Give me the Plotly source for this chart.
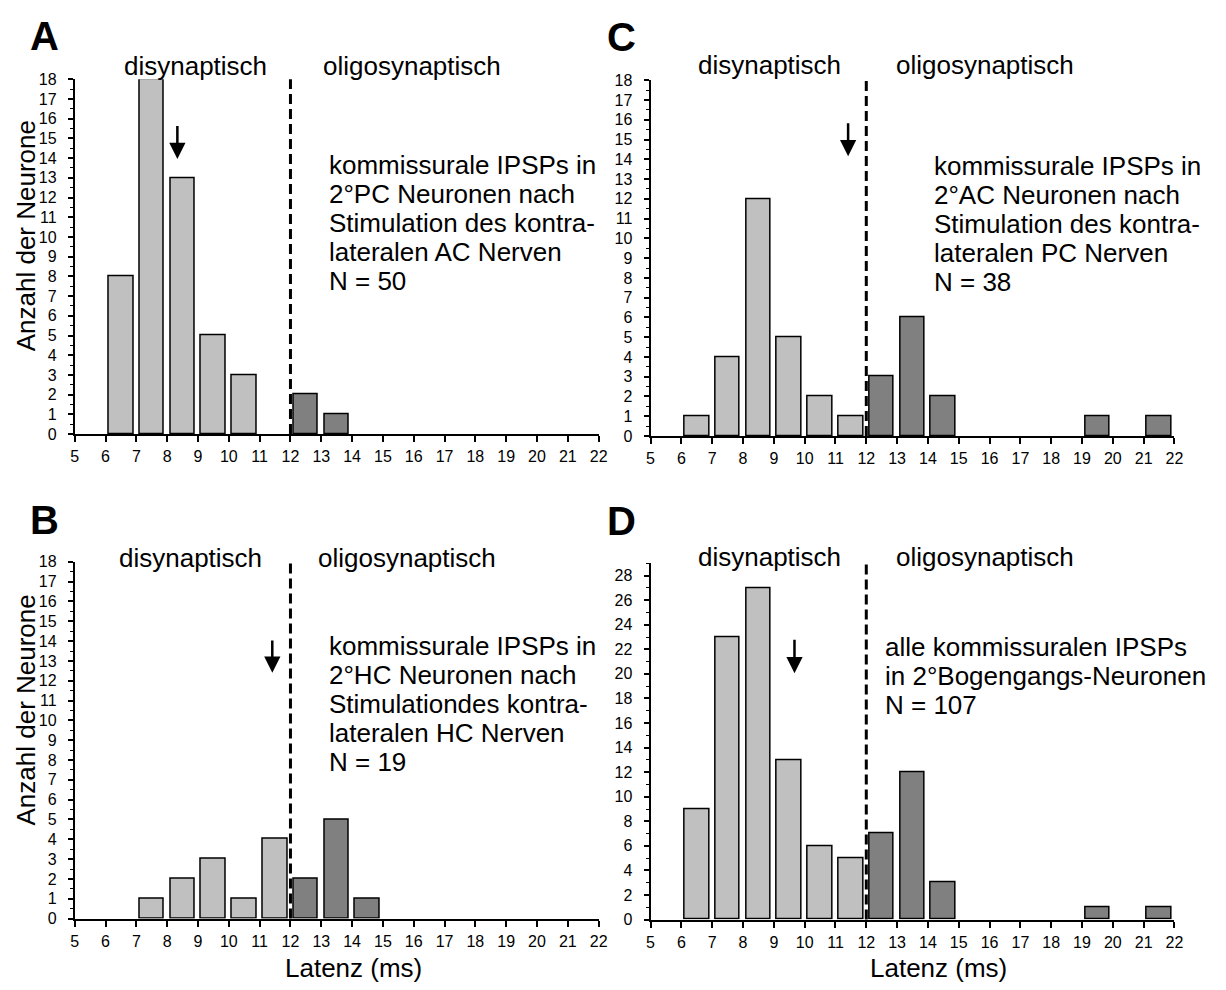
import plotly.graph_objects as go

# Latency bins (left edges, ms) and neuron counts per panel
bin_left = [5, 6, 7, 8, 9, 10, 11, 12, 13, 14, 15, 16, 17, 18, 19, 20, 21]
counts_A = [0, 8, 18, 13, 5, 3, 0, 2, 1, 0, 0, 0, 0, 0, 0, 0, 0]
counts_B = [0, 0, 1, 2, 3, 1, 4, 2, 5, 1, 0, 0, 0, 0, 0, 0, 0]
counts_C = [0, 1, 4, 12, 5, 2, 1, 3, 6, 2, 0, 0, 0, 0, 1, 0, 1]
counts_D = [0, 9, 23, 27, 13, 6, 5, 7, 12, 3, 0, 0, 0, 0, 1, 0, 1]

# boundary between disynaptic and oligosynaptic latencies (ms)
boundary = 12

# arrow marks: latency, arrow tail count, arrow tip count
arrow_A = (8.33, 15.7, 13.95)
arrow_B = (11.41, 14.1, 12.4)
arrow_C = (11.41, 15.9, 14.15)
arrow_D = (9.67, 22.9, 20.05)

text_A = ["kommissurale IPSPs in", "2°PC Neuronen nach", "Stimulation des kontra-",
          "lateralen AC Nerven", "N = 50"]
text_B = ["kommissurale IPSPs in", "2°HC Neuronen nach", "Stimulationdes kontra-",
          "lateralen HC Nerven", "N = 19"]
text_C = ["kommissurale IPSPs in", "2°AC Neuronen nach", "Stimulation des kontra-",
          "lateralen PC Nerven", "N = 38"]
text_D = ["alle kommissuralen IPSPs", "in 2°Bogengangs-Neuronen", "N = 107"]

x_ticks = list(range(5, 23))

W, H = 1226, 990
FONT = "Liberation Sans, Arial, sans-serif"
LIGHT = "#c0c0c0"
DARK = "#808080"


def px_x(v):
    return v / W


def px_y(v):
    return 1 - v / H


panels = [
    dict(letter="A", counts=counts_A, arrow=arrow_A, text=text_A, xd=(71.5, 601), yd=(72.5, 433.5),
         ymax=18, dtick=1, minor=0.5, letter_pos=(41, 28), head_y=59.5, di_x=193.7, ol_x=412,
         text_x=326, text_y=160, ytitle=(22, 231.5), xtitle=None),
    dict(letter="B", counts=counts_B, arrow=arrow_B, text=text_B, xd=(71.5, 601), yd=(563.5, 926.5),
         ymax=18, dtick=1, minor=0.5, letter_pos=(41, 521), head_y=560, di_x=188.7, ol_x=407,
         text_x=326, text_y=649, ytitle=(22, 714), xtitle=(353, 977)),
    dict(letter="C", counts=counts_C, arrow=arrow_C, text=text_C, xd=(653.5, 1183), yd=(73.5, 435.5),
         ymax=18, dtick=1, minor=0.5, letter_pos=(624, 30), head_y=57.5, di_x=773.6, ol_x=992,
         text_x=938, text_y=161, ytitle=None, xtitle=None),
    dict(letter="D", counts=counts_D, arrow=arrow_D, text=text_D, xd=(653.5, 1183), yd=(565, 927.5),
         ymax=29, dtick=2, minor=1, letter_pos=(624, 522), head_y=559, di_x=773.6, ol_x=992,
         text_x=888, text_y=650, ytitle=None, xtitle=(945, 977)),
]

fig = go.Figure()
annotations = []
shapes = []
layout = {}

for i, p in enumerate(panels):
    n = "" if i == 0 else str(i + 1)
    xa, ya = "x" + n, "y" + n

    di_x = [b + 0.5 for b, c in zip(bin_left, p["counts"]) if c > 0 and b < boundary]
    di_y = [c for b, c in zip(bin_left, p["counts"]) if c > 0 and b < boundary]
    ol_x = [b + 0.5 for b, c in zip(bin_left, p["counts"]) if c > 0 and b >= boundary]
    ol_y = [c for b, c in zip(bin_left, p["counts"]) if c > 0 and b >= boundary]

    for xs, ys, col in ((di_x, di_y, LIGHT), (ol_x, ol_y, DARK)):
        fig.add_trace(go.Bar(x=xs, y=ys, width=0.8, xaxis=xa, yaxis=ya,
                             marker=dict(color=col, line=dict(color="black", width=1.5)),
                             showlegend=False, hoverinfo="x+y"))

    layout["xaxis" + n] = dict(
        domain=[px_x(p["xd"][0]), px_x(p["xd"][1])], anchor=ya, range=[5, 22],
        tickmode="array", tickvals=x_ticks, ticktext=[str(t) for t in x_ticks],
        ticks="outside", ticklen=6, tickwidth=1.5, tickcolor="black",
        showline=True, linewidth=2, linecolor="black", showgrid=False, zeroline=False,
        ticklabelstandoff=1,
        tickfont=dict(family=FONT, size=16, color="black"), fixedrange=True)
    layout["yaxis" + n] = dict(
        domain=[px_y(p["yd"][1]), px_y(p["yd"][0])], anchor=xa, range=[0, p["ymax"]],
        tick0=0, dtick=p["dtick"], ticks="outside", ticklen=5, tickwidth=1.5, tickcolor="black",
        minor=dict(dtick=p["minor"], ticks="outside", ticklen=3, tickwidth=1.2, tickcolor="black"),
        showline=True, linewidth=2, linecolor="black", showgrid=False, zeroline=False,
        ticklabelstandoff=8,
        tickfont=dict(family=FONT, size=16, color="black"), fixedrange=True)

    # separation line between disynaptic and oligosynaptic latencies
    shapes.append(dict(type="line", xref=xa, yref=ya + " domain", x0=boundary, x1=boundary,
                       y0=0, y1=1, line=dict(color="black", width=3, dash="10px,5px"),
                       layer="above"))

    # arrow
    ax_, tail, tip = p["arrow"]
    annotations.append(dict(xref=xa, yref=ya, axref=xa, ayref=ya, x=ax_, y=tip, ax=ax_, ay=tail,
                            showarrow=True, arrowhead=2, arrowsize=1.3, arrowwidth=2.5,
                            arrowcolor="black", text="", standoff=0, startstandoff=0))

    # panel letter
    annotations.append(dict(xref="paper", yref="paper", x=px_x(p["letter_pos"][0]),
                            y=px_y(p["letter_pos"][1]), text="<b>%s</b>" % p["letter"],
                            showarrow=False, xanchor="center", yanchor="middle",
                            font=dict(family=FONT, size=40, color="black")))

    # region headers
    for label, cx in (("disynaptisch", p["di_x"]), ("oligosynaptisch", p["ol_x"])):
        annotations.append(dict(xref="paper", yref="paper", x=px_x(cx), y=px_y(p["head_y"]),
                                text=label, showarrow=False, xanchor="center", yanchor="middle",
                                font=dict(family=FONT, size=26, color="black")))

    # description block
    for k, line in enumerate(p["text"]):
        annotations.append(dict(xref="paper", yref="paper", x=px_x(p["text_x"]),
                                y=px_y(p["text_y"] + 29.5 * k), text=line, showarrow=False,
                                xanchor="left", yanchor="middle",
                                font=dict(family=FONT, size=26, color="black")))

    if p["ytitle"]:
        annotations.append(dict(xref="paper", yref="paper", x=px_x(p["ytitle"][0]),
                                y=px_y(p["ytitle"][1]), text="Anzahl der Neurone", textangle=-90,
                                showarrow=False, xanchor="center", yanchor="middle",
                                font=dict(family=FONT, size=26, color="black")))
    if p["xtitle"]:
        annotations.append(dict(xref="paper", yref="paper", x=px_x(p["xtitle"][0]),
                                y=px_y(p["xtitle"][1]), text="Latenz (ms)",
                                showarrow=False, xanchor="center", yanchor="middle",
                                font=dict(family=FONT, size=26, color="black")))

fig.update_layout(
    width=W, height=H, margin=dict(l=0, r=0, t=0, b=0),
    paper_bgcolor="white", plot_bgcolor="white", bargap=0,
    font=dict(family=FONT, color="black"),
    annotations=annotations, shapes=shapes, showlegend=False,
    **layout)

fig.write_html("out.html", config={"displayModeBar": False})
